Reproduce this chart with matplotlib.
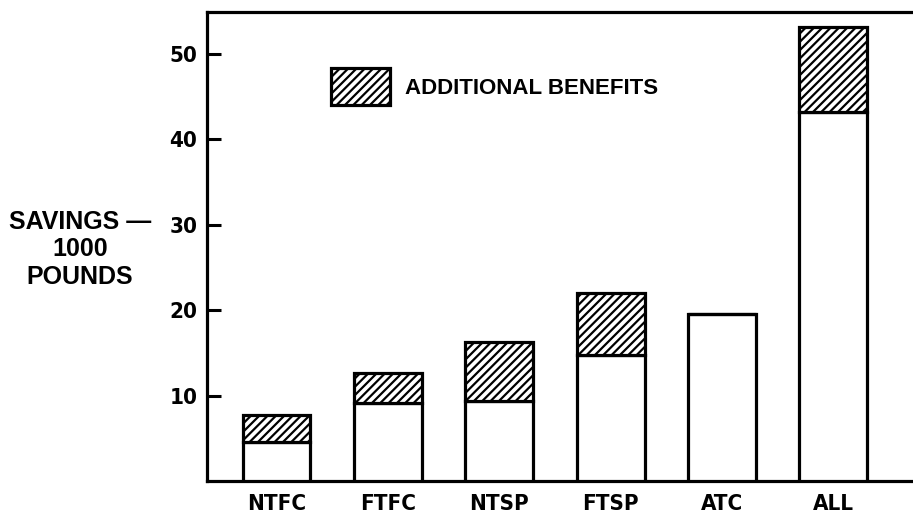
import matplotlib
matplotlib.use('Agg')
import matplotlib.pyplot as plt
from matplotlib.patches import Patch

# savings in 1000 pounds
categories = ['NTFC', 'FTFC', 'NTSP', 'FTSP', 'ATC', 'ALL']
base = [4.6, 9.1, 9.4, 14.7, 19.5, 43.2]
extra = [3.1, 3.5, 6.9, 7.3, 0.0, 10.0]
yticks = [10, 20, 30, 40, 50]

plt.rcParams['font.family'] = ['Liberation Sans', 'DejaVu Sans']
plt.rcParams['hatch.linewidth'] = 1.6

fig = plt.figure(figsize=(9.13, 5.17), dpi=100)
ax = fig.add_axes([207 / 913, 36 / 517, 1 - 207 / 913, 469 / 517])

x = list(range(len(categories)))
lw = 2.3
ax.bar(x, base, width=0.61, facecolor='white', edgecolor='black', linewidth=lw, zorder=3)
ax.bar(x, extra, width=0.61, bottom=base, facecolor='white', edgecolor='black',
       hatch='////', linewidth=lw, zorder=3)

ax.set_xlim(-0.624, 5.714)
ax.set_ylim(0, 54.9)

for s in ['left', 'bottom', 'top']:
    ax.spines[s].set_linewidth(lw)
ax.spines['right'].set_visible(False)

ax.set_yticks(yticks)
ax.set_yticklabels([str(v) for v in yticks], family='DejaVu Sans', stretch='condensed',
                   fontsize=16, fontweight='bold')
ax.tick_params(axis='y', direction='in', length=10, width=2.2, pad=7)
ax.set_xticks(x)
ax.set_xticklabels(categories, family='DejaVu Sans', stretch='condensed',
                   fontsize=16, fontweight='bold')
ax.tick_params(axis='x', length=0, pad=9)

ax.set_ylabel('SAVINGS \u2014\n1000\nPOUNDS', rotation=0, fontsize=18, fontweight='bold',
              ha='center', va='center', linespacing=1.2)
ax.yaxis.set_label_coords(-0.18, 0.494)

handle = Patch(facecolor='white', edgecolor='black', hatch='////', linewidth=lw)
ax.legend([handle], ['ADDITIONAL BENEFITS'], loc='upper left',
          bbox_to_anchor=(331 / 913, 1 - 68 / 517), bbox_transform=fig.transFigure,
          frameon=False, borderpad=0, borderaxespad=0, handlelength=2.65,
          handleheight=2.2, handletextpad=0.68,
          prop={'size': 16, 'weight': 'bold'})

fig.savefig('out.png', dpi=100)
